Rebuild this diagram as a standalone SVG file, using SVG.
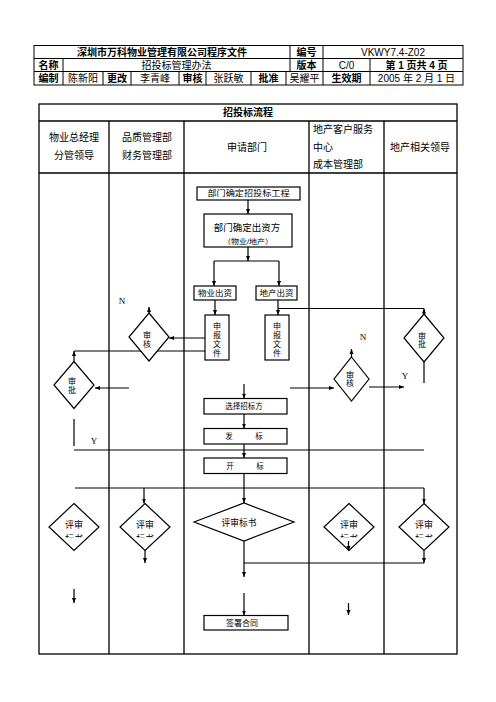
<svg xmlns="http://www.w3.org/2000/svg" width="496" height="702" viewBox="0 0 496 702">
<defs>
<style>
text{font-family:"Liberation Sans","Noto Sans CJK SC",sans-serif;fill:#000;dominant-baseline:central}
.h{font-size:10px;text-anchor:middle}
.b{font-weight:bold}
.c{text-anchor:middle}
.s{font-family:"Liberation Serif",serif;font-size:9px}
.tl{stroke:#000;stroke-width:1;fill:none}
.fr{stroke:#000;stroke-width:1.3;fill:none}
.box{fill:#fff;stroke:#000;stroke-width:1.2}
.cn{stroke:#000;stroke-width:1.2;fill:none}
.ar{marker-end:url(#ah)}
</style>
<marker id="ah" viewBox="0 0 10 10" refX="10" refY="5" markerWidth="5" markerHeight="5" orient="auto" markerUnits="userSpaceOnUse">
<path d="M0,1 L10,5 L0,9 z" fill="#000"/>
</marker>
<clipPath id="cut" clipPathUnits="userSpaceOnUse"><rect x="0" y="0" width="496" height="537.5"/></clipPath>
</defs>
<rect width="496" height="702" fill="#fff"/>

<g id="header">
<rect class="tl" x="34" y="45.5" width="429" height="39.5"/>
<path class="tl" d="M34,58.5H463M34,71.5H463M290,45.5V71.5M323,45.5V85M63,58.5V85M370,58.5V85M103,71.5V85M131,71.5V85M179,71.5V85M206,71.5V85M251,71.5V85M286,71.5V85"/>
<text class="h b" x="162" y="52">深圳市万科物业管理有限公司程序文件</text>
<text class="h b" x="306.5" y="52">编号</text>
<text class="h" x="393" y="52">VKWY7.4-Z02</text>
<text class="h b" x="48.5" y="65">名称</text>
<text class="h" x="176.5" y="65">招投标管理办法</text>
<text class="h b" x="306.5" y="65">版本</text>
<text class="h" x="346.5" y="65">C/0</text>
<text class="h b" x="416.5" y="65">第 1 页共 4 页</text>
<text class="h b" x="48.5" y="78">编制</text>
<text class="h" x="83" y="78">陈新阳</text>
<text class="h b" x="117" y="78">更改</text>
<text class="h" x="155" y="78">李青峰</text>
<text class="h b" x="192.5" y="78">审核</text>
<text class="h" x="228.5" y="78">张跃敏</text>
<text class="h b" x="268.5" y="78">批准</text>
<text class="h" x="304.5" y="78">吴耀平</text>
<text class="h b" x="346.5" y="78">生效期</text>
<text class="h" x="416.5" y="78">2005 年 2 月 1 日</text>
</g>

<g id="lanes">
<rect class="fr" x="39" y="104" width="418" height="550"/>
<path class="fr" d="M39,121H457M39,173H457M109,121V654M184,121V654M309,121V654M384,121V654"/>
<text class="h b" x="248" y="112">招投标流程</text>
<text class="h" x="74" y="137.5">物业总经理</text>
<text class="h" x="74" y="155.5">分管领导</text>
<text class="h" x="147" y="137.5">品质管理部</text>
<text class="h" x="147" y="155.5">财务管理部</text>
<text class="h" x="247" y="147">申请部门</text>
<text x="313" y="129.5" font-size="10">地产客户服务</text>
<text x="313" y="147" font-size="10">中心</text>
<text x="313" y="164.5" font-size="10">成本管理部</text>
<text class="h" x="420" y="147">地产相关领导</text>
</g>

<g id="connectors">
<path class="cn ar" d="M248,200V214"/>
<path class="cn ar" d="M248,247V261"/>
<path class="cn" d="M214,261H279"/>
<path class="cn ar" d="M214,261V286"/>
<path class="cn ar" d="M279,261V286"/>
<path class="cn ar" d="M215,300V315"/>
<path class="cn ar" d="M278,300V315"/>
<path class="cn" d="M424,308.5H278"/>
<path class="cn ar" d="M424,314V308.5"/>
<path class="cn ar" d="M205,338H169"/>
<path class="cn ar" d="M149,313V307"/>
<path class="cn" d="M205,351H74"/>
<path class="cn ar" d="M74,361.5V351"/>
<path class="cn ar" d="M129,388H95"/>
<path class="cn" d="M74,419V446"/>
<path class="cn" d="M74,450H424"/>
<path class="cn ar" d="M244,384V398.5"/>
<path class="cn ar" d="M290,388H334"/>
<path class="cn ar" d="M351.5,357V349"/>
<path class="cn ar" d="M369,387H404"/>
<path class="cn" d="M424,362V383"/>
<path class="cn ar" d="M244,414V428.5"/>
<path class="cn ar" d="M244,444V458"/>
<path class="cn" d="M75,488H424"/>
<path class="cn ar" d="M144,488V503.5"/>
<path class="cn ar" d="M244,473.5V503"/>
<path class="cn ar" d="M424,488V503.5"/>
<path class="cn ar" d="M145,550.5V563"/>
<path class="cn ar" d="M424,550.5V563"/>
<path class="cn" d="M244,563H424"/>
<path class="cn ar" d="M244,541V577"/>
<path class="cn ar" d="M244,593V615.5"/>
<path class="cn ar" d="M74,589V603"/>
<path class="cn ar" d="M348.5,603V615"/>
<text class="s c" x="122" y="301">N</text>
<text class="s c" x="363" y="337">N</text>
<text class="s c" x="94" y="441">Y</text>
<text class="s c" x="405" y="376">Y</text>
</g>

<g id="n1">
<rect class="box" x="197" y="187" width="103" height="13"/>
<text class="c" x="248.5" y="193.5" font-size="8" textLength="82" lengthAdjust="spacingAndGlyphs">部门确定招投标工程</text>
</g>
<g id="n2">
<rect class="box" x="204" y="214" width="88" height="33"/>
<text class="c" x="247" y="227" font-size="9.5">部门确定出资方</text>
<text class="c" x="248" y="241" font-size="7" textLength="50" lengthAdjust="spacingAndGlyphs">（物业/地产）</text>
</g>
<g id="n3">
<rect class="box" x="194" y="286" width="42" height="14"/>
<text class="c" x="215" y="293" font-size="8" textLength="34" lengthAdjust="spacingAndGlyphs">物业出资</text>
</g>
<g id="n4">
<rect class="box" x="256" y="286" width="41" height="14"/>
<text class="c" x="276.5" y="293" font-size="8" textLength="34" lengthAdjust="spacingAndGlyphs">地产出资</text>
</g>
<g id="n5">
<rect class="box" x="205" y="315" width="24" height="45"/>
<text class="c" font-size="8"><tspan x="217" y="326">申</tspan><tspan x="217" y="335">报</tspan><tspan x="217" y="344">文</tspan><tspan x="217" y="353">件</tspan></text>
</g>
<g id="n6">
<rect class="box" x="265" y="315" width="24" height="45"/>
<text class="c" font-size="8"><tspan x="277" y="326">申</tspan><tspan x="277" y="335">报</tspan><tspan x="277" y="344">文</tspan><tspan x="277" y="353">件</tspan></text>
</g>
<g id="n7">
<polygon class="box" points="149,313 169,337 149,361 129,337"/>
<text class="c" font-size="8"><tspan x="147" y="335">审</tspan><tspan x="147" y="343.5">核</tspan></text>
</g>
<g id="n8">
<polygon class="box" points="74,361.5 94,385 74,408.5 54,385"/>
<text class="c" font-size="8"><tspan x="72" y="380.5">审</tspan><tspan x="72" y="390">批</tspan></text>
</g>
<g id="n9">
<polygon class="box" points="351.5,357 369,379 351.5,401 334,379"/>
<text class="c" font-size="8"><tspan x="350" y="375">审</tspan><tspan x="350" y="383">核</tspan></text>
</g>
<g id="n10">
<polygon class="box" points="424,314 444,338 424,362 404,338"/>
<text class="c" font-size="8"><tspan x="422" y="335.5">审</tspan><tspan x="422" y="344">批</tspan></text>
</g>
<g id="n11">
<rect class="box" x="204" y="398.5" width="83" height="15.5"/>
<text class="c" x="244" y="406.5" font-size="7.5">选择招标方</text>
</g>
<g id="n12">
<rect class="box" x="204" y="428.5" width="83" height="15.5"/>
<text class="c" x="244" y="436.5" font-size="7.5">发　　　标</text>
</g>
<g id="n13">
<rect class="box" x="204" y="458" width="83" height="15.5"/>
<text class="c" x="245" y="466" font-size="7.5">开　　　标</text>
</g>
<g id="n14">
<polygon class="box" points="194,522 244,503 294,522 244,541"/>
<text class="c" x="239" y="522.5" font-size="8.75">评审标书</text>
</g>
<g id="n15">
<polygon class="box" points="74,503.5 99,527 74,550.5 49,527"/>
<text class="c" x="74" y="525" font-size="9">评审</text>
<text class="c" x="74" y="539" font-size="9" clip-path="url(#cut)">标书</text>
</g>
<g id="n16">
<polygon class="box" points="145,503.5 170,527 145,550.5 120,527"/>
<text class="c" x="145" y="525" font-size="9">评审</text>
<text class="c" x="145" y="539" font-size="9" clip-path="url(#cut)">标书</text>
</g>
<g id="n17">
<polygon class="box" points="349,503.5 374,527 349,550.5 324,527"/>
<text class="c" x="349" y="525" font-size="9">评审</text>
<text class="c" x="349" y="539" font-size="9" clip-path="url(#cut)">标书</text>
<path class="cn ar" d="M348.5,541V551"/>
</g>
<g id="n18">
<polygon class="box" points="424,503.5 449,527 424,550.5 399,527"/>
<text class="c" x="424" y="525" font-size="9">评审</text>
<text class="c" x="424" y="539" font-size="9" clip-path="url(#cut)">标书</text>
</g>
<g id="n19">
<rect class="box" x="204" y="615.5" width="84" height="14.5"/>
<text class="c" x="242" y="623" font-size="8">签署合同</text>
</g>
</svg>
